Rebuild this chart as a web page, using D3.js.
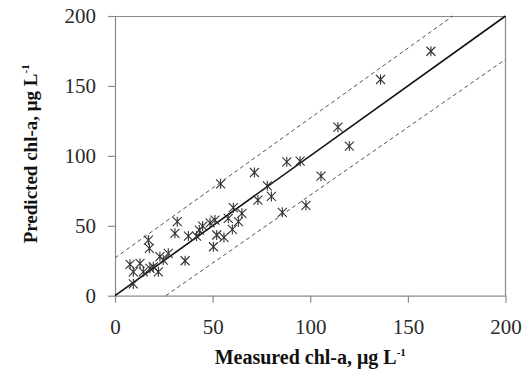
<!DOCTYPE html>
<html>
<head>
<meta charset="utf-8">
<script src="https://cdn.jsdelivr.net/npm/d3@7"></script>
<style>
  body { margin: 0; background: #fff; }
  svg { display: block; }
</style>
</head>
<body>
<svg id="chart"></svg>
<script>
// measured vs predicted chl-a (µg/L)
var measured = [161.8, 136, 114.2, 120, 94.8, 88, 105.5, 71.4, 54.1, 78, 80.1, 73.2, 97.8, 85.7,
  60.6, 65, 63.2, 58, 60.1, 51.2, 48.7, 44.9, 43.2, 52.1, 55.8, 41.8, 37.6, 31.9, 30.7, 50.4,
  35.9, 17.1, 17.6, 23, 27.3, 24.7, 7.7, 12.8, 9.4, 14.5, 17.9, 22.2, 9.4, 19.6];
var predicted = [174.8, 154.6, 120.5, 107, 96.2, 95.7, 85.5, 88.1, 80, 78.6, 71, 68.4, 64.6, 59.6,
  62.9, 58.9, 52.9, 55.3, 47.4, 54.1, 52.1, 49.8, 46.9, 43.4, 41.7, 42.6, 42.6, 52.9, 44.6, 35,
  25, 39.8, 33.9, 27.9, 30.3, 25.5, 22.4, 23.1, 17.1, 17.1, 19.6, 17.1, 8.4, 20.7];

var oneToOne = [[0, 0], [200, 200]];
var upperBand = [[0, 27], [173, 200]];
var lowerBand = [[26, 0], [200, 169]];

var xTicks = [0, 50, 100, 150, 200];
var yTicks = [0, 50, 100, 150, 200];

var svgWidth = 529, svgHeight = 377;
var margin = { top: 16, right: 23.5, bottom: 81.3, left: 115 };
var width = svgWidth - margin.left - margin.right;
var height = svgHeight - margin.top - margin.bottom;

var svg = d3.select("#chart")
    .attr("width", svgWidth)
    .attr("height", svgHeight);

var g = svg.append("g")
    .attr("transform", "translate(" + margin.left + "," + margin.top + ")");

var x = d3.scaleLinear().domain([0, 200]).range([0, width]);
var y = d3.scaleLinear().domain([0, 200]).range([height, 0]);

var axisColor = "#8a8a8a";
var font = "'Liberation Serif', 'Times New Roman', serif";

// frame (top and right)
g.append("path")
    .attr("d", "M0,0.5H" + width + "V" + height)
    .attr("fill", "none")
    .attr("stroke", axisColor)
    .attr("stroke-width", 1.2);

var xAxis = g.append("g")
    .attr("transform", "translate(0," + height + ")")
    .call(d3.axisBottom(x).tickValues(xTicks).tickSize(7).tickPadding(16).tickSizeOuter(0));

var yAxis = g.append("g")
    .call(d3.axisLeft(y).tickValues(yTicks).tickSize(7).tickPadding(12).tickSizeOuter(0));

[xAxis, yAxis].forEach(function(a) {
  a.select(".domain").attr("stroke", axisColor).attr("stroke-width", 1.2);
  a.selectAll(".tick line").attr("stroke", axisColor).attr("stroke-width", 1.2);
  a.selectAll(".tick text")
      .attr("fill", "#2a2a2a")
      .style("font-family", font)
      .style("font-size", "21px");
});

var line = d3.line()
    .x(function(d) { return x(d[0]); })
    .y(function(d) { return y(d[1]); });

g.append("path")
    .datum(upperBand)
    .attr("fill", "none")
    .attr("stroke", "#555")
    .attr("stroke-width", 1)
    .attr("stroke-dasharray", "4,3")
    .attr("d", line);

g.append("path")
    .datum(lowerBand)
    .attr("fill", "none")
    .attr("stroke", "#555")
    .attr("stroke-width", 1)
    .attr("stroke-dasharray", "4,3")
    .attr("d", line);

g.append("path")
    .datum(oneToOne)
    .attr("fill", "none")
    .attr("stroke", "#111")
    .attr("stroke-width", 1.6)
    .attr("d", line);

// asterisk markers: X plus a vertical bar
var s = 4.5;
var starPath = "M" + (-s) + "," + (-s) + "L" + s + "," + s +
    "M" + (-s) + "," + s + "L" + s + "," + (-s) +
    "M0," + (-s - 0.5) + "L0," + (s + 0.5);

g.append("g").selectAll("path")
    .data(measured)
    .join("path")
    .attr("transform", function(d, i) { return "translate(" + x(d) + "," + y(predicted[i]) + ")"; })
    .attr("d", starPath)
    .attr("fill", "none")
    .attr("stroke", "#333")
    .attr("stroke-width", 1.1);

// axis titles
var xLabel = svg.append("text")
    .attr("x", margin.left + width / 2)
    .attr("y", 364)
    .attr("text-anchor", "middle")
    .style("font-family", font)
    .style("font-weight", "bold")
    .style("font-size", "20px")
    .attr("fill", "#111");
xLabel.append("tspan").text("Measured chl-a, \u03bcg L");
xLabel.append("tspan").attr("dy", -8).style("font-size", "11px").text("-1");

var yLabel = svg.append("text")
    .attr("transform", "translate(37," + (margin.top + height / 2 - 2) + ") rotate(-90)")
    .attr("text-anchor", "middle")
    .style("font-family", font)
    .style("font-weight", "bold")
    .style("font-size", "19px")
    .attr("fill", "#111");
yLabel.append("tspan").text("Predicted chl-a, \u03bcg L");
yLabel.append("tspan").attr("dy", -8).style("font-size", "11px").text("-1");
</script>
</body>
</html>
